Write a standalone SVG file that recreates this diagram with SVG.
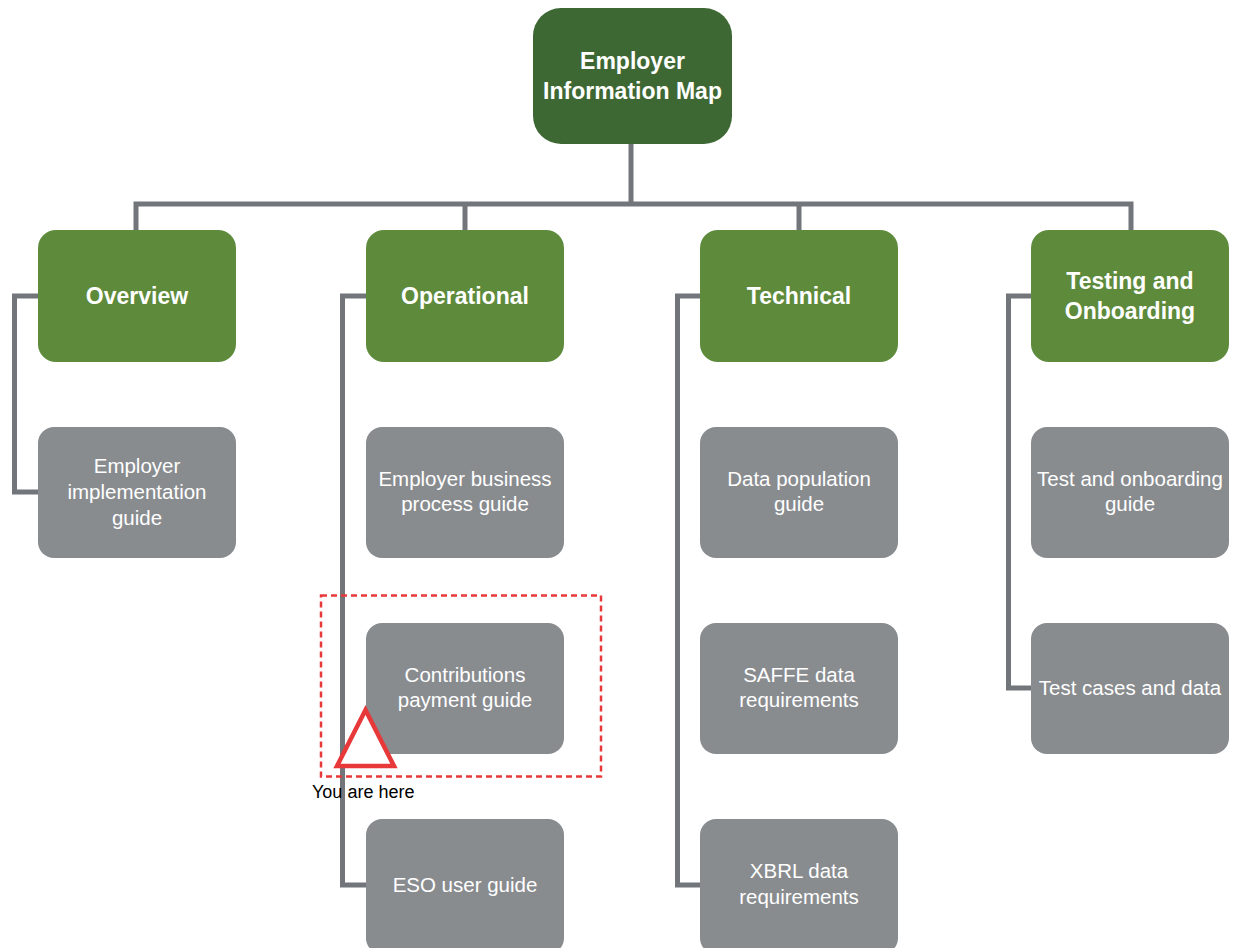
<svg xmlns="http://www.w3.org/2000/svg" width="1239" height="948" viewBox="0 0 1239 948">
<style>
.conn{fill:none;stroke:#72757a;stroke-width:5;stroke-linejoin:miter}
.root{fill:#3e6833}
.cat{fill:#5e8a3b}
.doc{fill:#898c8f}
.tb{font-family:"Liberation Sans",Arial,sans-serif;font-weight:bold;font-size:23px;fill:#ffffff;text-anchor:middle}
.td{font-family:"Liberation Sans",Arial,sans-serif;font-size:20.5px;fill:#ffffff;text-anchor:middle}
</style>
<rect x="0" y="0" width="1239" height="948" fill="#ffffff"/>
<g id="connectors">
<path class="conn" d="M631 144 V204"/>
<path class="conn" d="M136 230 V204 H1131 V230"/>
<path class="conn" d="M465 204 V230"/>
<path class="conn" d="M799 204 V230"/>
<path class="conn" d="M38 296 H14.5 V492 H38"/>
<path class="conn" d="M366 296 H342.5 V885 H366"/>
<path class="conn" d="M700 296 H677.5 V885 H700"/>
<path class="conn" d="M1031 296 H1008.5 V688 H1031"/>
</g>
<g id="root">
<rect class="root" x="533" y="8" width="199" height="136" rx="28"/>
<text class="tb" x="632.5" y="69">Employer</text>
<text class="tb" x="632.5" y="99">Information Map</text>
</g>
<g id="overview">
<rect class="cat" x="38" y="230" width="198" height="132" rx="18"/>
<text class="tb" x="137" y="304">Overview</text>
</g>
<g id="operational">
<rect class="cat" x="366" y="230" width="198" height="132" rx="18"/>
<text class="tb" x="465" y="304">Operational</text>
</g>
<g id="technical">
<rect class="cat" x="700" y="230" width="198" height="132" rx="18"/>
<text class="tb" x="799" y="304">Technical</text>
</g>
<g id="testing">
<rect class="cat" x="1031" y="230" width="198" height="132" rx="18"/>
<text class="tb" x="1130" y="289">Testing and</text>
<text class="tb" x="1130" y="319">Onboarding</text>
</g>
<g id="employer-implementation-guide">
<rect class="doc" x="38" y="427" width="198" height="131" rx="16"/>
<text class="td" x="137" y="473">Employer</text>
<text class="td" x="137" y="499">implementation</text>
<text class="td" x="137" y="525">guide</text>
</g>
<g id="employer-business-process-guide">
<rect class="doc" x="366" y="427" width="198" height="131" rx="16"/>
<text class="td" x="465" y="486">Employer business</text>
<text class="td" x="465" y="511">process guide</text>
</g>
<g id="contributions-payment-guide">
<rect class="doc" x="366" y="623" width="198" height="131" rx="16"/>
<text class="td" x="465" y="682">Contributions</text>
<text class="td" x="465" y="707">payment guide</text>
</g>
<g id="eso-user-guide">
<rect class="doc" x="366" y="819" width="198" height="135" rx="16"/>
<text class="td" x="465" y="892">ESO user guide</text>
</g>
<g id="data-population-guide">
<rect class="doc" x="700" y="427" width="198" height="131" rx="16"/>
<text class="td" x="799" y="486">Data population</text>
<text class="td" x="799" y="511">guide</text>
</g>
<g id="saffe-data-requirements">
<rect class="doc" x="700" y="623" width="198" height="131" rx="16"/>
<text class="td" x="799" y="682">SAFFE data</text>
<text class="td" x="799" y="707">requirements</text>
</g>
<g id="xbrl-data-requirements">
<rect class="doc" x="700" y="819" width="198" height="135" rx="16"/>
<text class="td" x="799" y="878">XBRL data</text>
<text class="td" x="799" y="904">requirements</text>
</g>
<g id="test-and-onboarding-guide">
<rect class="doc" x="1031" y="427" width="198" height="131" rx="16"/>
<text class="td" x="1130" y="486">Test and onboarding</text>
<text class="td" x="1130" y="511">guide</text>
</g>
<g id="test-cases-and-data">
<rect class="doc" x="1031" y="623" width="198" height="131" rx="16"/>
<text class="td" x="1130" y="695">Test cases and data</text>
</g>
<g id="you-are-here">
<rect x="321" y="595.5" width="280" height="181" fill="none" stroke="#e8393a" stroke-width="2.5" stroke-dasharray="6 4"/>
<polygon points="365.5,710 337,766 394,766" fill="#ffffff" stroke="#e8393a" stroke-width="4.5" stroke-linejoin="miter"/>
<text x="312" y="798" font-family="'Liberation Sans',Arial,sans-serif" font-size="18" fill="#000000">You are here</text>
</g>
</svg>
